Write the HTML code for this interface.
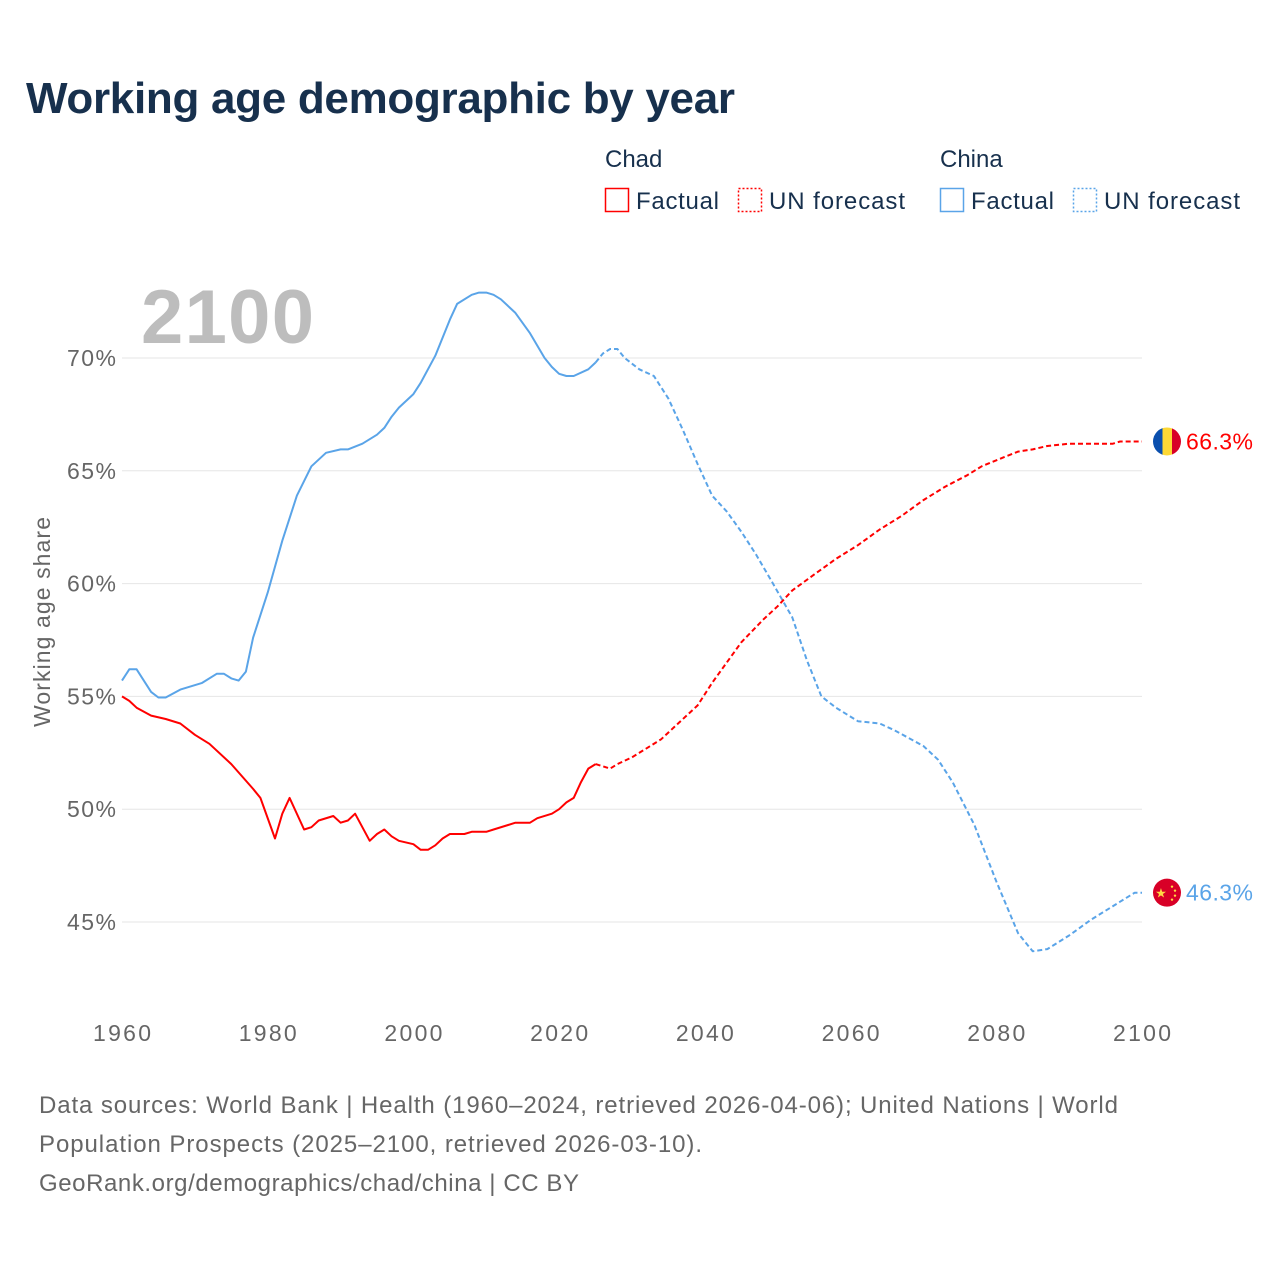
<!DOCTYPE html>
<html><head><meta charset="utf-8"><style>
body{margin:0;background:#fff;font-family:"Liberation Sans",sans-serif;}
svg{display:block}
</style></head><body>
<svg id="c" width="1280" height="1280" xmlns="http://www.w3.org/2000/svg">
<text x="26" y="113" font-size="44" font-weight="bold" fill="#17304d" textLength="709">Working age demographic by year</text>
<g font-size="24" fill="#17304d">
<text x="605" y="167">Chad</text>
<text x="940" y="167">China</text>
<g><rect x="605.5" y="188.5" width="23" height="23" fill="none" stroke="#f00" stroke-width="1.5"/><text x="636" y="209" textLength="83">Factual</text></g>
<g><rect x="738.5" y="188.5" width="23" height="23" fill="none" stroke="#f00" stroke-width="1.5" stroke-dasharray="2 2"/><text x="769" y="209" textLength="136">UN forecast</text></g>
<g><rect x="940.5" y="188.5" width="23" height="23" fill="none" stroke="#5aa4e8" stroke-width="1.5"/><text x="971" y="209" textLength="83">Factual</text></g>
<g><rect x="1073.5" y="188.5" width="23" height="23" fill="none" stroke="#5aa4e8" stroke-width="1.5" stroke-dasharray="2 2"/><text x="1104" y="209" textLength="136">UN forecast</text></g>
</g>
<text x="141" y="343" font-size="76" font-weight="bold" fill="#bdbdbd" textLength="173">2100</text>
<text transform="translate(50,622) rotate(-90)" text-anchor="middle" font-size="23" fill="#666" textLength="210">Working age share</text>
<g id="grid"></g><g id="series"></g><g id="ends"></g>
<g font-size="24" fill="#666">
<text x="39" y="1113" textLength="1079">Data sources: World Bank | Health (1960–2024, retrieved 2026-04-06); United Nations | World</text>
<text x="39" y="1152" textLength="663">Population Prospects (2025–2100, retrieved 2026-03-10).</text>
<text x="39" y="1191" textLength="540">GeoRank.org/demographics/chad/china | CC BY</text>
</g>
</svg>
<script>
const yTicks=[45,50,55,60,65,70];
const xTicks=[1960,1980,2000,2020,2040,2060,2080,2100];
const chadFactYears=[1960,1961,1962,1964,1966,1968,1970,1972,1975,1978,1979,1981,1982,1983,1985,1986,1987,1989,1990,1991,1992,1994,1995,1996,1997,1998,2000,2001,2002,2003,2004,2005,2007,2008,2010,2011,2013,2014,2016,2017,2019,2020,2021,2022,2023,2024,2025];
const chadFactVals=[55.0,54.8,54.5,54.15,54.0,53.8,53.3,52.9,52.0,50.9,50.5,48.7,49.8,50.5,49.1,49.2,49.5,49.7,49.4,49.5,49.8,48.6,48.9,49.1,48.8,48.6,48.45,48.2,48.2,48.4,48.7,48.9,48.9,49.0,49.0,49.1,49.3,49.4,49.4,49.6,49.8,50.0,50.3,50.5,51.2,51.8,52.0];
const chadFcYears=[2025,2026,2027,2028,2030,2032,2034,2036,2039,2041,2043,2045,2048,2050,2052,2055,2058,2061,2064,2067,2070,2073,2076,2078,2081,2083,2085,2087,2090,2096,2097,2100];
const chadFcVals=[52.0,51.9,51.8,52.0,52.3,52.7,53.1,53.7,54.6,55.6,56.5,57.4,58.4,59.0,59.7,60.4,61.1,61.7,62.4,63.0,63.7,64.3,64.8,65.2,65.6,65.85,65.95,66.1,66.2,66.2,66.3,66.3];
const chinaFactYears=[1960,1961,1962,1964,1965,1966,1968,1971,1973,1974,1975,1976,1977,1978,1980,1982,1984,1986,1988,1990,1991,1993,1995,1996,1997,1998,2000,2001,2003,2005,2006,2008,2009,2010,2011,2012,2014,2016,2018,2019,2020,2021,2022,2024,2025];
const chinaFactVals=[55.7,56.2,56.2,55.2,54.95,54.95,55.3,55.6,56.0,56.0,55.8,55.7,56.1,57.6,59.6,61.9,63.9,65.2,65.8,65.95,65.95,66.2,66.6,66.9,67.4,67.8,68.4,68.9,70.1,71.7,72.4,72.8,72.9,72.9,72.8,72.6,72.0,71.1,70.0,69.6,69.3,69.2,69.2,69.5,69.8];
const chinaFcYears=[2025,2026,2027,2028,2029,2031,2033,2035,2037,2039,2041,2043,2045,2047,2049,2052,2054,2056,2058,2061,2064,2066,2070,2072,2074,2077,2080,2083,2085,2087,2090,2093,2097,2099,2100];
const chinaFcVals=[69.8,70.2,70.4,70.4,70.0,69.5,69.2,68.2,66.8,65.3,63.9,63.2,62.3,61.3,60.2,58.5,56.6,55.0,54.5,53.9,53.8,53.5,52.8,52.2,51.2,49.3,46.8,44.5,43.7,43.8,44.4,45.1,45.9,46.3,46.3];
const chadLast=66.3, chinaLast=46.3;
const NS="http://www.w3.org/2000/svg";
const x=y=>122+(y-1960)*(1020/140);
const yv=v=>358+(70-v)*22.56;
function mk(t,a,p){const e=document.createElementNS(NS,t);for(const k in a)e.setAttribute(k,a[k]);p.appendChild(e);return e;}
const grid=document.getElementById('grid');
yTicks.forEach(t=>{
 const l=mk('line',{x1:122,x2:1142,y1:yv(t),y2:yv(t),stroke:'#e6e6e6','stroke-width':1},grid);
 
 
 const tx=mk('text',{x:116,y:yv(t)+8,'text-anchor':'end','font-size':23,fill:'#666',textLength:49},grid);
 tx.textContent=t+'%';
 
 
});
xTicks.forEach(t=>{
 const tx=mk('text',{x:x(t)-29,y:1041,'font-size':23,fill:'#666',textLength:58},grid);
 tx.textContent=t;
 
 
});
const ser=document.getElementById('series');
function line(ys,vs,col,dash,name){
 const d=ys.map((yr,i)=>(i?'L':'M')+x(yr).toFixed(1)+','+yv(vs[i]).toFixed(1)).join('');
 const p=mk('path',{d:d,fill:'none',stroke:col,'stroke-width':2,'stroke-linejoin':'round'},ser);
 if(dash)p.setAttribute('stroke-dasharray','5 3');
 
 
}
line(chinaFactYears,chinaFactVals,'#5aa4e8',false,'china-factual-line');
line(chinaFcYears,chinaFcVals,'#5aa4e8',true,'china-forecast-line');
line(chadFactYears,chadFactVals,'#ff0000',false,'chad-factual-line');
line(chadFcYears,chadFcVals,'#ff0000',true,'chad-forecast-line');
const ends=document.getElementById('ends');
const cy=yv(chadLast), cx=1167;
const g1=mk('g',{},ends);


mk('clipPath',{id:'cc'},g1).appendChild(document.createElementNS(NS,'circle'));
const cc=document.querySelector('#cc circle');cc.setAttribute('cx',cx);cc.setAttribute('cy',cy);cc.setAttribute('r',14);
mk('rect',{x:cx-14,y:cy-14,width:10,height:28,fill:'#0a4fae','clip-path':'url(#cc)'},g1);
mk('rect',{x:cx-4.5,y:cy-14,width:9.5,height:28,fill:'#fdd835','clip-path':'url(#cc)'},g1);
mk('rect',{x:cx+5,y:cy-14,width:10,height:28,fill:'#d80027','clip-path':'url(#cc)'},g1);
const t1=mk('text',{x:1186,y:cy+8,'font-size':23,fill:'#ff0000',textLength:67},ends);
t1.textContent=chadLast.toFixed(1)+'%';


const hy=yv(chinaLast);
const g2=mk('g',{},ends);


mk('circle',{cx:cx,cy:hy,r:14,fill:'#d80027'},g2);
const s=mk('text',{x:cx-6,y:hy+5,'font-size':13,fill:'#ffda44','text-anchor':'middle'},g2);s.textContent='★';
mk('circle',{cx:cx+5,cy:hy-6,r:1.2,fill:'#ffda44'},g2);
mk('circle',{cx:cx+8,cy:hy-2,r:1.2,fill:'#ffda44'},g2);
mk('circle',{cx:cx+8,cy:hy+3,r:1.2,fill:'#ffda44'},g2);
mk('circle',{cx:cx+5,cy:hy+7,r:1.2,fill:'#ffda44'},g2);
const t2=mk('text',{x:1186,y:hy+8,'font-size':23,fill:'#5aa4e8',textLength:67},ends);
t2.textContent=chinaLast.toFixed(1)+'%';


</script>
</body></html>
